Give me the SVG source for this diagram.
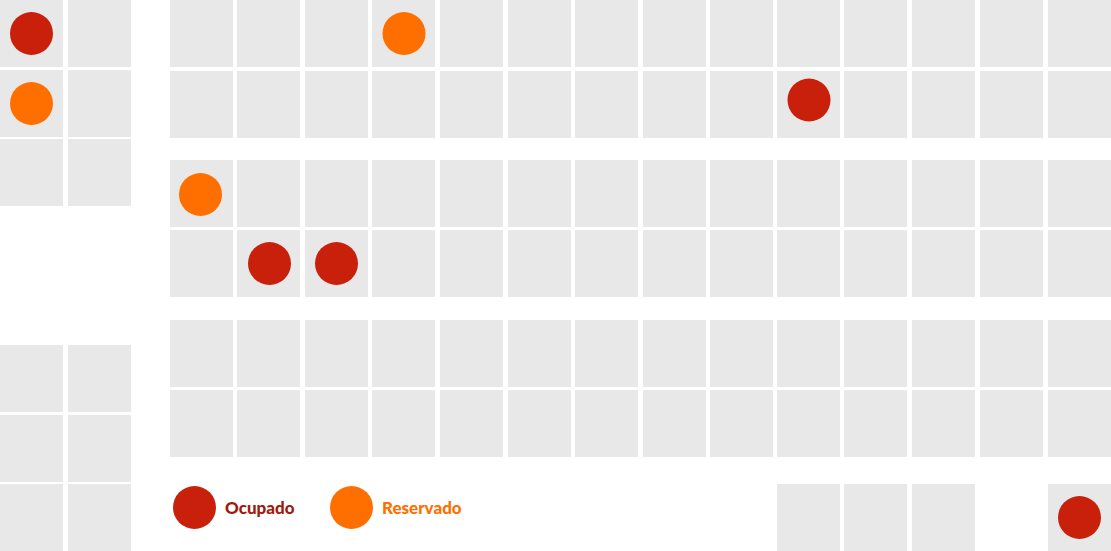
<svg xmlns="http://www.w3.org/2000/svg" width="1111" height="551" viewBox="0 0 1111 551">
<style>
.c{fill:#e8e8e8}
.occ{fill:#c9200c}
.res{fill:#ff6f00}
.lbl{font-family:"Lato","Open Sans",sans-serif;font-weight:900;font-size:17px}
</style>
<rect width="1111" height="551" fill="#ffffff"/>
<g id="left-column">
<rect class="c" x="0" y="0" width="63" height="67"/><rect class="c" x="68" y="0" width="63" height="67"/>
<rect class="c" x="0" y="70" width="63" height="67"/><rect class="c" x="68" y="70" width="63" height="67"/>
<rect class="c" x="0" y="139" width="63" height="67"/><rect class="c" x="68" y="139" width="63" height="67"/>
<rect class="c" x="0" y="345" width="63" height="67"/><rect class="c" x="68" y="345" width="63" height="67"/>
<rect class="c" x="0" y="415" width="63" height="67"/><rect class="c" x="68" y="415" width="63" height="67"/>
<rect class="c" x="0" y="484" width="63" height="67"/><rect class="c" x="68" y="484" width="63" height="67"/>
</g>
<g id="grid">
<g id="row-a1">
<rect class="c" x="170" y="0" width="63" height="67"/><rect class="c" x="237" y="0" width="63" height="67"/><rect class="c" x="305" y="0" width="63" height="67"/><rect class="c" x="372" y="0" width="63" height="67"/><rect class="c" x="440" y="0" width="63" height="67"/><rect class="c" x="508" y="0" width="63" height="67"/><rect class="c" x="575" y="0" width="63" height="67"/><rect class="c" x="643" y="0" width="63" height="67"/><rect class="c" x="710" y="0" width="63" height="67"/><rect class="c" x="777" y="0" width="63" height="67"/><rect class="c" x="844" y="0" width="63" height="67"/><rect class="c" x="912" y="0" width="63" height="67"/><rect class="c" x="980" y="0" width="63" height="67"/><rect class="c" x="1048" y="0" width="63" height="67"/>
</g>
<g id="row-a2">
<rect class="c" x="170" y="71" width="63" height="67"/><rect class="c" x="237" y="71" width="63" height="67"/><rect class="c" x="305" y="71" width="63" height="67"/><rect class="c" x="372" y="71" width="63" height="67"/><rect class="c" x="440" y="71" width="63" height="67"/><rect class="c" x="508" y="71" width="63" height="67"/><rect class="c" x="575" y="71" width="63" height="67"/><rect class="c" x="643" y="71" width="63" height="67"/><rect class="c" x="710" y="71" width="63" height="67"/><rect class="c" x="777" y="71" width="63" height="67"/><rect class="c" x="844" y="71" width="63" height="67"/><rect class="c" x="912" y="71" width="63" height="67"/><rect class="c" x="980" y="71" width="63" height="67"/><rect class="c" x="1048" y="71" width="63" height="67"/>
</g>
<g id="row-b1">
<rect class="c" x="170" y="160" width="63" height="67"/><rect class="c" x="237" y="160" width="63" height="67"/><rect class="c" x="305" y="160" width="63" height="67"/><rect class="c" x="372" y="160" width="63" height="67"/><rect class="c" x="440" y="160" width="63" height="67"/><rect class="c" x="508" y="160" width="63" height="67"/><rect class="c" x="575" y="160" width="63" height="67"/><rect class="c" x="643" y="160" width="63" height="67"/><rect class="c" x="710" y="160" width="63" height="67"/><rect class="c" x="777" y="160" width="63" height="67"/><rect class="c" x="844" y="160" width="63" height="67"/><rect class="c" x="912" y="160" width="63" height="67"/><rect class="c" x="980" y="160" width="63" height="67"/><rect class="c" x="1048" y="160" width="63" height="67"/>
</g>
<g id="row-b2">
<rect class="c" x="170" y="230" width="63" height="67"/><rect class="c" x="237" y="230" width="63" height="67"/><rect class="c" x="305" y="230" width="63" height="67"/><rect class="c" x="372" y="230" width="63" height="67"/><rect class="c" x="440" y="230" width="63" height="67"/><rect class="c" x="508" y="230" width="63" height="67"/><rect class="c" x="575" y="230" width="63" height="67"/><rect class="c" x="643" y="230" width="63" height="67"/><rect class="c" x="710" y="230" width="63" height="67"/><rect class="c" x="777" y="230" width="63" height="67"/><rect class="c" x="844" y="230" width="63" height="67"/><rect class="c" x="912" y="230" width="63" height="67"/><rect class="c" x="980" y="230" width="63" height="67"/><rect class="c" x="1048" y="230" width="63" height="67"/>
</g>
<g id="row-c1">
<rect class="c" x="170" y="320" width="63" height="67"/><rect class="c" x="237" y="320" width="63" height="67"/><rect class="c" x="305" y="320" width="63" height="67"/><rect class="c" x="372" y="320" width="63" height="67"/><rect class="c" x="440" y="320" width="63" height="67"/><rect class="c" x="508" y="320" width="63" height="67"/><rect class="c" x="575" y="320" width="63" height="67"/><rect class="c" x="643" y="320" width="63" height="67"/><rect class="c" x="710" y="320" width="63" height="67"/><rect class="c" x="777" y="320" width="63" height="67"/><rect class="c" x="844" y="320" width="63" height="67"/><rect class="c" x="912" y="320" width="63" height="67"/><rect class="c" x="980" y="320" width="63" height="67"/><rect class="c" x="1048" y="320" width="63" height="67"/>
</g>
<g id="row-c2">
<rect class="c" x="170" y="390" width="63" height="67"/><rect class="c" x="237" y="390" width="63" height="67"/><rect class="c" x="305" y="390" width="63" height="67"/><rect class="c" x="372" y="390" width="63" height="67"/><rect class="c" x="440" y="390" width="63" height="67"/><rect class="c" x="508" y="390" width="63" height="67"/><rect class="c" x="575" y="390" width="63" height="67"/><rect class="c" x="643" y="390" width="63" height="67"/><rect class="c" x="710" y="390" width="63" height="67"/><rect class="c" x="777" y="390" width="63" height="67"/><rect class="c" x="844" y="390" width="63" height="67"/><rect class="c" x="912" y="390" width="63" height="67"/><rect class="c" x="980" y="390" width="63" height="67"/><rect class="c" x="1048" y="390" width="63" height="67"/>
</g>
<g id="row-d">
<rect class="c" x="777" y="484" width="63" height="67"/><rect class="c" x="844" y="484" width="63" height="67"/><rect class="c" x="912" y="484" width="63" height="67"/><rect class="c" x="1048" y="484" width="63" height="67"/>
</g>
</g>
<g id="markers">
<circle class="occ" cx="31.5" cy="33.5" r="21.5"/>
<circle class="res" cx="31.5" cy="103.5" r="21.5"/>
<circle class="res" cx="404" cy="33.5" r="21.5"/>
<circle class="occ" cx="809" cy="100" r="21.5"/>
<circle class="res" cx="200.5" cy="194.5" r="21.5"/>
<circle class="occ" cx="269.5" cy="263.5" r="21.5"/>
<circle class="occ" cx="336.5" cy="263.5" r="21.5"/>
<circle class="occ" cx="1079.5" cy="517.5" r="21.5"/>
</g>
<g id="legend">
<circle class="occ" cx="194.5" cy="507.5" r="21.5"/>
<text class="lbl" x="225" y="513.5" fill="#a3190d">Ocupado</text>
<circle class="res" cx="351.5" cy="507.5" r="21.5"/>
<text class="lbl" x="382" y="514" fill="#ff6f00">Reservado</text>
</g>
</svg>
